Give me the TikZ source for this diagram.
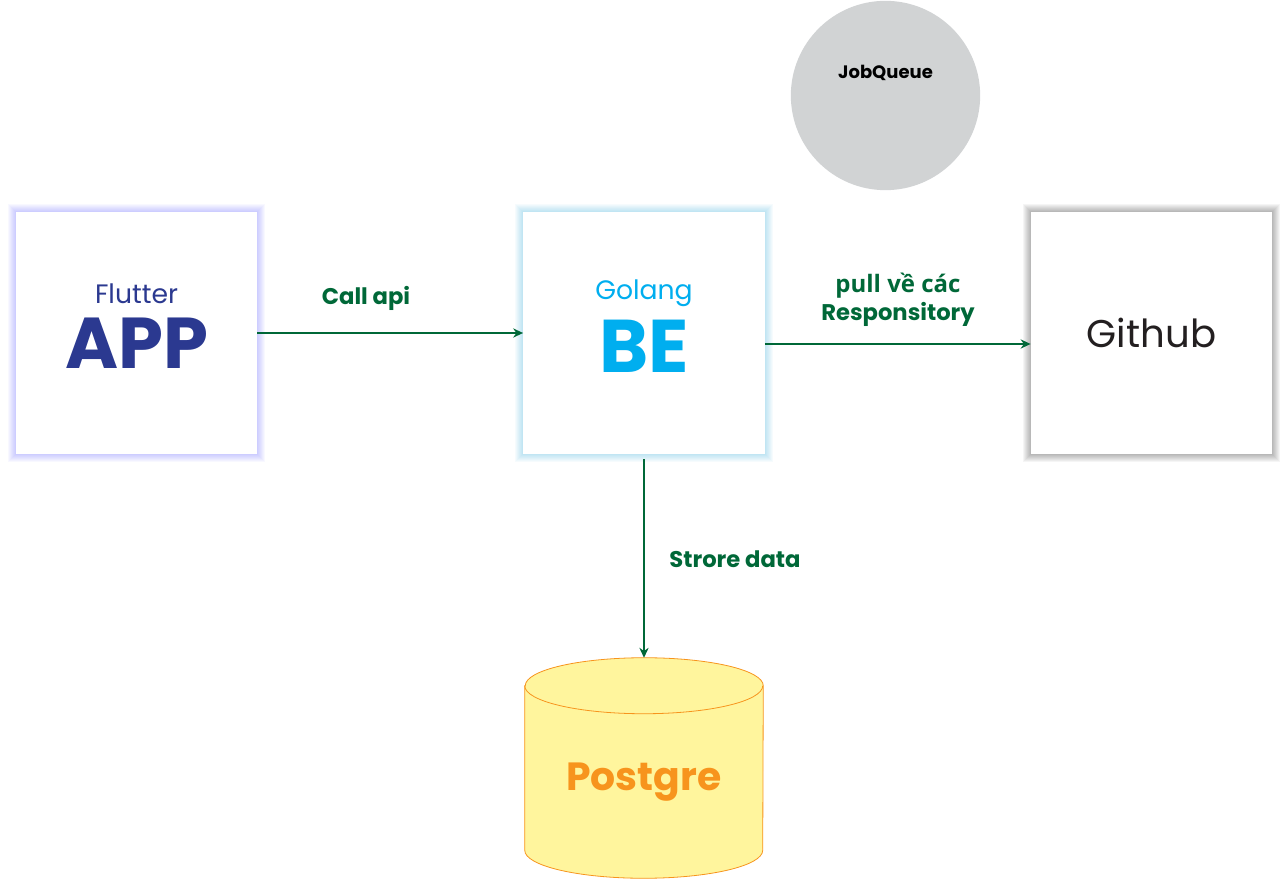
\documentclass[tikz,border=0pt]{standalone}
\usepackage{fontspec}
\setmainfont{Poppins}
\newfontfamily\vnfont{Open Sans}
\usetikzlibrary{positioning, backgrounds, arrows.meta}
\definecolor{appblue}{HTML}{2B3990}
\definecolor{beblue}{HTML}{00AEEF}
\definecolor{linkgreen}{HTML}{006838}
\definecolor{queuegray}{HTML}{D1D3D4}
\definecolor{dbfill}{HTML}{FFF59D}
\definecolor{dborange}{HTML}{F7941D}
\definecolor{hubtext}{HTML}{231F20}
\newcommand{\lowpad}[1]{\raisebox{0pt}[\height][\dimexpr\depth+10.5pt\relax]{#1}}

\begin{document}
\begin{tikzpicture}[x=0.75pt,y=-0.75pt,
  box/.style={rectangle, fill=white, minimum width=181pt, minimum height=181.5pt, inner sep=0pt, align=center},
  link/.style={draw=linkgreen, line width=0.9pt, -{Stealth[length=7.5pt,width=7pt,inset=2.5pt]}},
  lbl/.style={text=linkgreen, font=\bfseries\fontsize{17}{21}\selectfont, align=center}]

  \useasboundingbox (0,0) rectangle (1288,880);

  % main blocks
  \node[box] (app) at (136.5,333) {\color{appblue}\fontsize{20}{24}\selectfont Flutter\\[9.5pt]
    \color{appblue}\bfseries\fontsize{54}{54}\selectfont \lowpad{APP}};
  \node[box] (be) at (644,333) {\color{beblue}\fontsize{20}{24}\selectfont Golang\\[9.5pt]
    \color{beblue}\bfseries\fontsize{56}{56}\selectfont \lowpad{BE}};
  \node[box, text=hubtext, font=\fontsize{29}{32}\selectfont] (hub) at (1151.5,333) {Github};

  \node[circle, fill=queuegray, minimum size=142pt, inner sep=0pt] (queue) at (885.5,95.5) {};
  \node[font=\bfseries\fontsize{13.5}{15}\selectfont] (queuetxt) at (885.5,73) {JobQueue};

  % database
  \node[minimum width=178.5pt, minimum height=165pt, inner sep=0pt] (db) at (644,768) {};
  \draw[dborange, fill=dbfill, line width=0.6pt]
    ([yshift=-21pt]db.north west) -- ([yshift=21pt]db.south west)
    arc[start angle=180, end angle=0, x radius=119, y radius=28]
    -- ([yshift=-21pt]db.north east)
    arc[start angle=0, end angle=-180, x radius=119, y radius=28] -- cycle;
  \draw[dborange, line width=0.6pt] ([yshift=-21pt]db.north west)
    arc[start angle=180, end angle=0, x radius=119, y radius=28];
  \node[text=dborange, font=\bfseries\fontsize{29.5}{32}\selectfont] (dbtxt) at (644,782) {Postgre};

  % glow around the boxes
  \begin{scope}[on background layer]
    \foreach \n/\c in {app/blue!70, be/cyan!70!teal, hub/black}
      \foreach \d in {1,...,8}
        \fill[\c, opacity=0.04] ([shift={(-\d,\d)}]\n.south west) rectangle ([shift={(\d,-\d)}]\n.north east);
  \end{scope}

  % connectors
  \draw[link] (app.east) -- (be.west);
  \draw[link] ([yshift=-8.25pt]be.east) -- ([yshift=-8.25pt]hub.west);
  \draw[link] ([yshift=-3.75pt]be.south) -- (db.north);

  \node[lbl] (callapi) at (366,298) {Call api};
  \node[lbl] (pull) at (898,300) {{\vnfont\fontsize{18}{21}\selectfont pull về các}\\Responsitory};
  \node[lbl] (store) at (735,559) {Strore data};
\end{tikzpicture}
\end{document}
